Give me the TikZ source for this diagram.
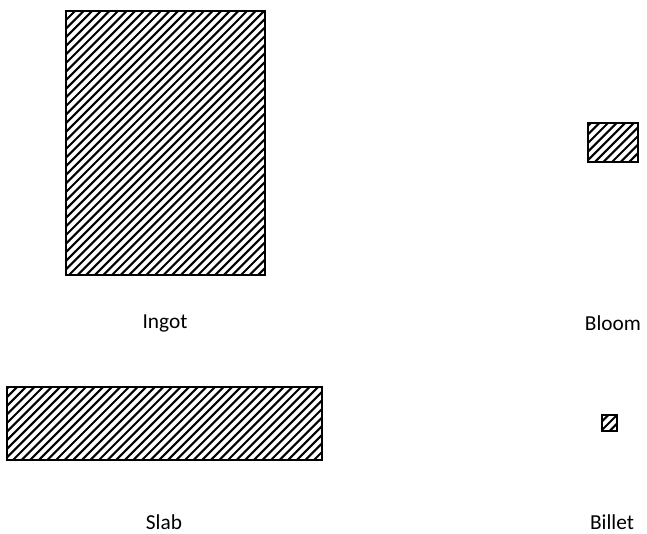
\documentclass[tikz,border=0pt]{standalone}
\usepackage{fontspec}
\setmainfont{Carlito}
\begin{document}
\begin{tikzpicture}[x=0.75pt,y=-0.75pt,
  hatch/.style={line width=1.55pt},
  box/.style={draw,line width=1.5pt},
  lbl/.style={font=\fontsize{16}{19}\selectfont, text=black, inner sep=0pt}]
\useasboundingbox (0,0) rectangle (647,533);
\newcommand\hatchbox[5]{%
  \path (#2,#3) coordinate (#1-nw) (#4,#5) coordinate (#1-se);
  \begin{scope}
    \clip (#1-nw) rectangle (#1-se);
    \foreach \c in {0,8.6,...,1190} \draw[hatch] (\c,0) -- (\c-600,600);
  \end{scope}
  \draw[box] (#1-nw) rectangle (#1-se);
}
\hatchbox{ingot}{66}{11}{265}{275}
\hatchbox{bloom}{588}{123}{638}{162}
\hatchbox{slab}{7}{387}{322}{460}
\hatchbox{billet}{602}{415}{617}{431}
\node[lbl] (ingotlbl) at (165,323) {Ingot};
\node[lbl] (bloomlbl) at (613,323) {Bloom};
\node[lbl] (slablbl) at (164,522) {Slab};
\node[lbl] (billetlbl) at (612,522) {Billet};
\end{tikzpicture}
\end{document}
